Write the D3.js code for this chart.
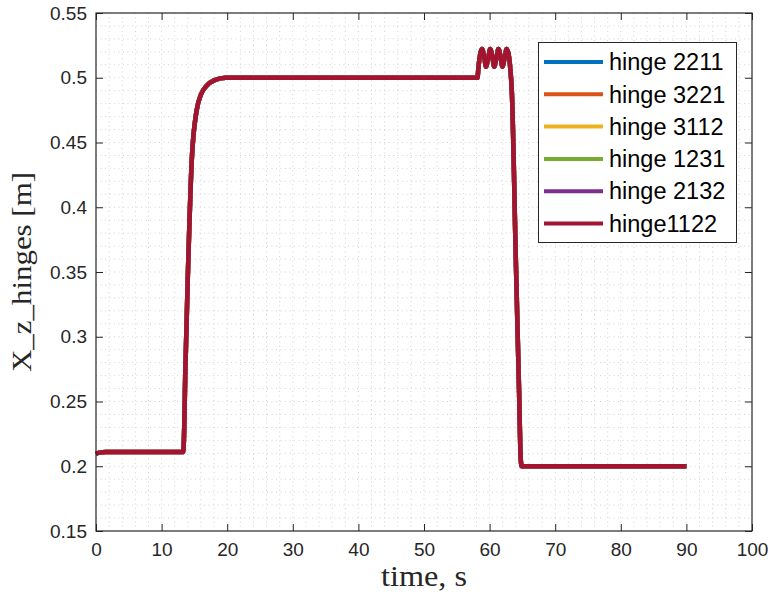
<!DOCTYPE html>
<html>
<head>
<meta charset="utf-8">
<script src="https://cdn.jsdelivr.net/npm/d3@7"></script>
<style>
  html, body { margin: 0; padding: 0; background: #fff; }
  svg { display: block; }
</style>
</head>
<body>
<svg id="chart" width="771" height="600"></svg>
<script>
// ---------- data ----------
const seriesNames = ["hinge 2211", "hinge 3221", "hinge 3112", "hinge 1231", "hinge 2132", "hinge1122"];
const seriesColors = ["#0072BD", "#D95319", "#EDB120", "#77AC30", "#7E2F8E", "#A2142F"];

// time samples (s)
const timeValues = [
  0, 0.5, 1.5, 13.3, 13.45, 13.6, 14.07, 14.6, 15.35, 16.0, 16.9, 18.0, 19.8,
  58.15, 58.3, 58.6, 58.85, 59.2, 59.45, 59.8, 60.1, 60.45, 60.7, 61.05, 61.35,
  61.7, 61.95, 62.3, 62.6, 62.9, 63.1, 63.4, 64.0, 64.5, 64.75, 64.9, 90
];
// X_z of the hinges (m); all six hinges coincide on the picture
const hingeValues = [
  0.2095, 0.2105, 0.211, 0.211, 0.23, 0.27, 0.359, 0.4365, 0.475, 0.487, 0.494, 0.498, 0.5,
  0.5, 0.508, 0.519, 0.5222, 0.5155, 0.5085, 0.5155, 0.5222, 0.5155, 0.5085, 0.5155, 0.5222,
  0.5155, 0.5085, 0.5155, 0.5222, 0.518, 0.510, 0.488, 0.359, 0.2566, 0.205, 0.2, 0.2
];
const hinge2211 = hingeValues, hinge3221 = hingeValues, hinge3112 = hingeValues,
      hinge1231 = hingeValues, hinge2132 = hingeValues, hinge1122 = hingeValues;
const seriesValues = [hinge2211, hinge3221, hinge3112, hinge1231, hinge2132, hinge1122];

const xTicks = [0, 10, 20, 30, 40, 50, 60, 70, 80, 90, 100];
const yTicks = [0.15, 0.2, 0.25, 0.3, 0.35, 0.4, 0.45, 0.5, 0.55];
const xLabel = "time, s";
const yLabel = "X_z_hinges [m]";

// ---------- layout ----------
const svg = d3.select("#chart");
const L = 96, R = 752, T = 13, B = 531;
const x = d3.scaleLinear().domain([0, 100]).range([L, R]);
const y = d3.scaleLinear().domain([0.15, 0.55]).range([B, T]);
const axisColor = "#262626";

// grid (dotted, every minor step)
const g = svg.append("g");
const xMinor = d3.range(0, 101, 2);
const yMinor = d3.range(15, 56, 1).map(v => v / 100);
g.selectAll("line.gx").data(xMinor.filter(v => v > 0 && v < 100)).enter().append("line")
  .attr("x1", d => x(d)).attr("x2", d => x(d)).attr("y1", T).attr("y2", B)
  .attr("stroke", "#d2d2d2").attr("stroke-width", 1).attr("stroke-dasharray", "1,3.5");
g.selectAll("line.gy").data(yMinor.filter(v => v > 0.1501 && v < 0.5499)).enter().append("line")
  .attr("x1", L).attr("x2", R).attr("y1", d => y(d)).attr("y2", d => y(d))
  .attr("stroke", "#d2d2d2").attr("stroke-width", 1).attr("stroke-dasharray", "1,3.5");

// lines
const line = d3.line()
  .x((d, i) => x(timeValues[i]))
  .y(d => y(d))
  .curve(d3.curveMonotoneX);
seriesValues.forEach((vals, k) => {
  svg.append("path").datum(vals)
    .attr("d", line)
    .attr("fill", "none")
    .attr("stroke", seriesColors[k])
    .attr("stroke-width", 4.5)
    .attr("stroke-linejoin", "round");
});

// axes
const fontSans = "'Liberation Sans', Arial, Helvetica, sans-serif";
const xAxisB = d3.axisBottom(x).tickValues(xTicks).tickSize(-7).tickPadding(12).tickFormat(d3.format("d"));
const xAxisT = d3.axisTop(x).tickValues(xTicks).tickSize(-7).tickFormat("");
const yAxisL = d3.axisLeft(y).tickValues(yTicks).tickSize(-7).tickPadding(9).tickFormat(d => String(+d.toFixed(2)));
const yAxisR = d3.axisRight(y).tickValues(yTicks).tickSize(-7).tickFormat("");

function styleAxis(sel) {
  sel.select(".domain").attr("stroke", axisColor).attr("stroke-width", 1.2);
  sel.selectAll(".tick line").attr("stroke", axisColor).attr("stroke-width", 1);
  sel.selectAll(".tick text").attr("fill", axisColor).style("font-family", fontSans).style("font-size", "19px");
}
svg.append("g").attr("transform", `translate(0,${B})`).call(xAxisB).call(styleAxis);
svg.append("g").attr("transform", `translate(0,${T})`).call(xAxisT).call(styleAxis);
svg.append("g").attr("transform", `translate(${L},0)`).call(yAxisL).call(styleAxis);
svg.append("g").attr("transform", `translate(${R},0)`).call(yAxisR).call(styleAxis);
svg.selectAll(".domain").attr("d", null);
svg.append("rect").attr("x", L).attr("y", T).attr("width", R - L).attr("height", B - T)
  .attr("fill", "none").attr("stroke", axisColor).attr("stroke-width", 1.2);

// labels
const fontSerif = "'Liberation Serif', 'DejaVu Serif', serif";
svg.append("text").attr("x", (L + R) / 2).attr("y", 586).attr("text-anchor", "middle")
  .style("font-family", fontSerif).style("font-size", "29px").attr("fill", axisColor)
  .attr("textLength", 86).attr("lengthAdjust", "spacingAndGlyphs").text(xLabel);
svg.append("text").attr("transform", `translate(31,${(T + B) / 2}) rotate(-90)`).attr("text-anchor", "middle")
  .style("font-family", fontSerif).style("font-size", "28px").attr("fill", axisColor)
  .attr("textLength", 200).attr("lengthAdjust", "spacingAndGlyphs").text(yLabel);

// legend
const lg = svg.append("g");
lg.append("rect").attr("x", 538.5).attr("y", 42.5).attr("width", 198).attr("height", 200)
  .attr("fill", "#fff").attr("stroke", axisColor).attr("stroke-width", 1);
seriesNames.forEach((name, k) => {
  const cy = 62 + k * 32.3;
  lg.append("line").attr("x1", 544).attr("x2", 603).attr("y1", cy).attr("y2", cy)
    .attr("stroke", seriesColors[k]).attr("stroke-width", 4);
  lg.append("text").attr("x", 609).attr("y", cy).attr("dy", "0.35em")
    .style("font-family", fontSans).style("font-size", "23.5px").attr("fill", "#000").text(name);
});
</script>
</body>
</html>
